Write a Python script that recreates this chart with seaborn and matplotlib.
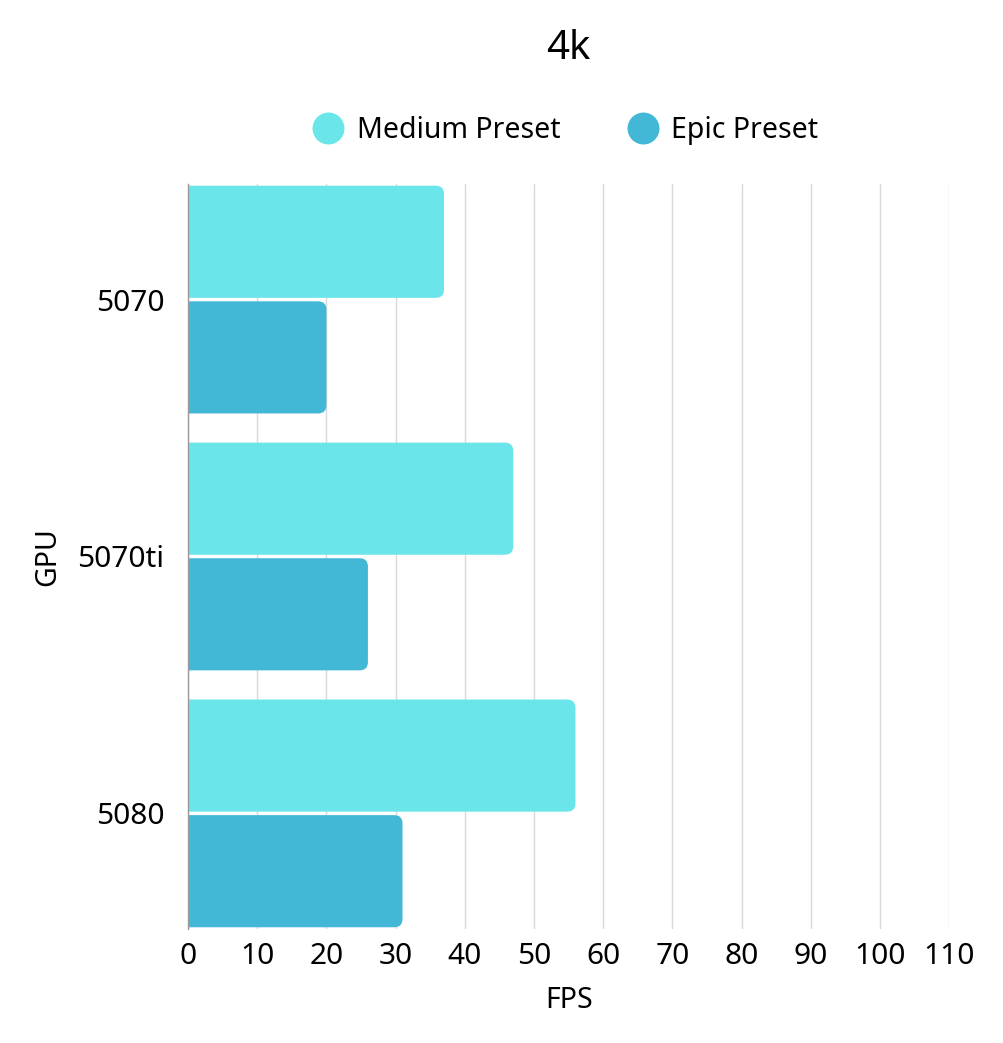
import pandas as pd
import matplotlib
matplotlib.use('Agg')
import matplotlib.pyplot as plt
import seaborn as sns
from matplotlib.patches import FancyBboxPatch
from matplotlib.lines import Line2D

gpus = ['5070', '5070ti', '5080']
medium_fps = [37, 47, 56]
epic_fps = [20, 26, 31]
presets = ['Medium Preset', 'Epic Preset']
colors = ['#6AE5E9', '#42B7D6']
x_ticks = list(range(0, 111, 10))

df = pd.DataFrame({
    'GPU': gpus * 2,
    'FPS': medium_fps + epic_fps,
    'Preset': [presets[0]] * len(gpus) + [presets[1]] * len(gpus),
})

sns.set_style('white')
plt.rcParams['font.family'] = ['Noto Sans', 'DejaVu Sans']
plt.rcParams['text.color'] = 'black'
plt.rcParams['axes.labelcolor'] = 'black'
plt.rcParams['xtick.color'] = 'black'
plt.rcParams['ytick.color'] = 'black'

fig = plt.figure(figsize=(10.04, 10.43), dpi=100)
ax = fig.add_axes([0.1873, 0.1093, 0.758, 0.7143])

sns.barplot(data=df, x='FPS', y='GPU', hue='Preset', orient='h',
            palette=colors, width=0.9, gap=0.03, saturation=1,
            edgecolor='none', linewidth=0, ax=ax, zorder=3)

ax.set_xlim(0, 110)
ax.set_ylim(len(gpus) - 1 + 0.45, -0.45)

# round the right-hand ends of the bars
fig.canvas.draw()
px_x = ax.transData.transform((1, 0))[0] - ax.transData.transform((0, 0))[0]
px_y = abs(ax.transData.transform((0, 1))[1] - ax.transData.transform((0, 0))[1])
aspect = px_x / px_y
for p in list(ax.patches):
    x0, y0 = p.get_x(), p.get_y()
    w, h = p.get_width(), p.get_height()
    if w <= 0:
        continue
    fb = FancyBboxPatch((x0 - 3, y0), w + 3, h,
                        boxstyle='round,pad=0,rounding_size=1.2',
                        mutation_aspect=aspect,
                        facecolor=p.get_facecolor(), edgecolor='none',
                        zorder=3, clip_on=True)
    ax.add_patch(fb)
    p.remove()

ax.set_xticks(x_ticks)
ax.xaxis.grid(True, color='#D9D9D9', linewidth=1, zorder=0)
ax.yaxis.grid(False)
for s in ['top', 'right', 'bottom']:
    ax.spines[s].set_visible(False)
ax.spines['left'].set_color('#9A9A9A')
ax.spines['left'].set_linewidth(1)
ax.spines['left'].set_zorder(4)
ax.tick_params(axis='both', length=0, labelsize=21.5, pad=9)
ax.tick_params(axis='y', pad=17)

ax.set_xlabel('FPS', fontsize=20.5, labelpad=11)
ax.set_ylabel('GPU', fontsize=20.5, labelpad=11)
ax.set_title('4k', fontsize=29, pad=90)

handles = [Line2D([0], [0], marker='o', color='none', markerfacecolor=c,
                  markeredgecolor='none', markersize=23) for c in colors]
ax.legend(handles, presets, loc='lower center', bbox_to_anchor=(0.495, 1.018),
          ncol=2, frameon=False, fontsize=20.5, handletextpad=0.4,
          columnspacing=2.3, handlelength=1.2)

plt.savefig('out.png', dpi=100)
